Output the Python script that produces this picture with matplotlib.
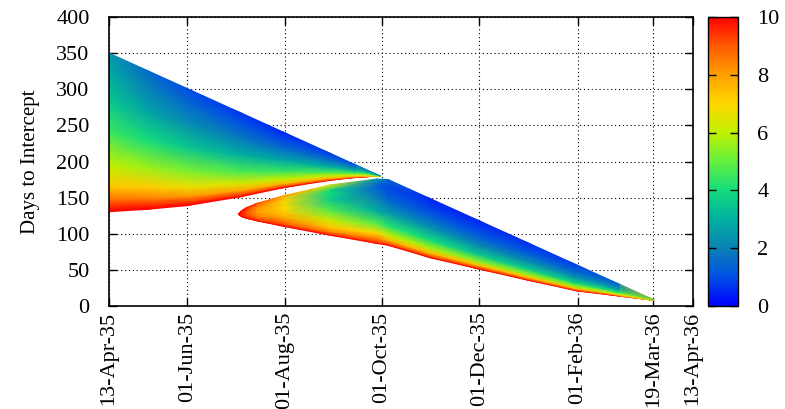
import numpy as np
import matplotlib
matplotlib.use('Agg')
import matplotlib.pyplot as plt
import matplotlib.dates as mdates
from matplotlib.colors import LinearSegmentedColormap

plt.rcParams['font.family'] = ['Liberation Serif', 'DejaVu Serif']

# launch window start, and x tick dates
START = '1935-04-13'
END = '1936-04-13'
tick_dates = ['1935-04-13', '1935-06-01', '1935-08-01', '1935-10-01',
              '1935-12-01', '1936-02-01', '1936-03-19', '1936-04-13']

# mesh rows: fraction of the way from lower edge to upper edge
frac = [0, 0.03, 0.08, 0.16, 0.3, 0.5, 0.7, 0.9, 1.0]

# first branch (days after START, lower / upper days-to-intercept, colour value per row)
lobe1_day = [0, 25, 49, 82, 110, 138.5, 155, 170]
lobe1_low = [130.5, 134, 139, 151, 164, 174, 178, 180]
lobe1_high = [350, 325, 301, 268, 240, 211.5, 195, 180]
lobe1_val = [
    [10, 9.6, 8.6, 7.3, 6.0, 4.5, 3.5, 2.8, 2.5],
    [10, 9.5, 8.4, 7.2, 5.6, 4.0, 2.8, 1.9, 1.5],
    [10, 9.4, 8.1, 6.7, 5.2, 3.5, 2.3, 1.4, 1.0],
    [10, 9.2, 7.8, 6.4, 4.7, 3.0, 1.8, 1.0, 0.7],
    [10, 9.0, 7.5, 6.0, 4.4, 2.8, 1.6, 0.8, 0.5],
    [10, 9.0, 7.6, 6.2, 4.6, 3.0, 1.8, 1.0, 0.8],
    [10, 9.0, 7.8, 6.5, 5.0, 3.4, 2.2, 1.4, 1.2],
    [10, 9.0, 8.0, 7.0, 6.0, 5.0, 4.0, 3.5, 3.0],
]

# second branch
lobe2_day = [81, 83.2, 86, 92.5, 110, 138.5, 167.7, 175, 201, 232, 262, 293, 320, 341]
lobe2_low = [127.3, 123.7, 121.5, 118, 110, 98, 86.7, 84, 67, 51, 36, 21, 13.7, 8]
lobe2_high = [127.3, 132, 136, 142, 153, 167.5, 175.8, 175, 149, 118, 88, 57, 30, 9]
lobe2_val = [
    [10, 10, 10, 10, 10, 10, 10, 10, 10],
    [10, 10, 9.9, 9.8, 9.7, 9.6, 9.7, 9.8, 10],
    [10, 9.9, 9.7, 9.5, 9.3, 9.2, 9.3, 9.6, 9.8],
    [10, 9.7, 9.3, 8.9, 8.4, 8.1, 8.2, 8.8, 9.3],
    [10, 9.6, 9.1, 8.6, 7.8, 7.1, 6.9, 7.2, 8.0],
    [10, 9.2, 8.2, 7.3, 6.2, 4.8, 3.7, 4.0, 6.5],
    [10, 9.2, 8.4, 7.0, 4.9, 3.0, 2.0, 1.3, 2.5],
    [10, 9.0, 7.6, 6.0, 4.2, 2.5, 1.4, 0.9, 1.5],
    [10, 9.0, 7.5, 5.8, 4.0, 2.4, 1.3, 0.7, 0.5],
    [10, 9.0, 7.4, 5.4, 3.5, 2.1, 1.2, 0.7, 0.5],
    [10, 9.0, 7.4, 5.5, 3.6, 2.2, 1.3, 0.8, 0.6],
    [10, 9.0, 7.5, 5.6, 3.8, 2.4, 1.5, 1.0, 0.8],
    [10, 9.2, 7.8, 6.0, 4.3, 3.0, 2.2, 1.7, 1.5],
    [8, 8, 7.5, 7, 6.5, 6, 6, 6, 6],
]

cbar_ticks = [0, 2, 4, 6, 8, 10]
y_ticks = list(range(0, 401, 50))

# palette
cmap = LinearSegmentedColormap.from_list('intercept', [
    (0.0, '#0000ff'), (0.1, '#0050e6'), (0.2, '#0a82b4'), (0.3, '#00b0a0'),
    (0.4, '#14dc7c'), (0.5, '#64f040'), (0.6, '#bff000'), (0.7, '#ffd800'),
    (0.8, '#ffa000'), (0.9, '#ff5a00'), (1.0, '#ff0000')])

fig = plt.figure(figsize=(7.85, 4.09), dpi=100)
ax = fig.add_axes([0.1389, 0.2518, 0.7439, 0.7066])
cax = fig.add_axes([0.9019, 0.2518, 0.0382, 0.7066])

t0 = mdates.date2num(np.datetime64(START))
f = np.asarray(frac)
mesh = None
for days, low, high, vals in [(lobe1_day, lobe1_low, lobe1_high, lobe1_val),
                              (lobe2_day, lobe2_low, lobe2_high, lobe2_val)]:
    d = t0 + np.asarray(days, dtype=float)
    low = np.asarray(low, dtype=float)
    high = np.asarray(high, dtype=float)
    X = np.repeat(d[:, None], len(f), axis=1)
    Y = low[:, None] + (high - low)[:, None] * f[None, :]
    mesh = ax.pcolormesh(X, Y, np.asarray(vals), shading='gouraud',
                         cmap=cmap, vmin=0, vmax=10, zorder=1)

ax.set_xlim(t0, mdates.date2num(np.datetime64(END)))
ax.set_ylim(0, 400)
ax.set_xticks([mdates.date2num(np.datetime64(t)) for t in tick_dates])
ax.xaxis.set_major_formatter(mdates.DateFormatter('%d-%b-%y'))
ax.set_yticks(y_ticks)
ax.tick_params(axis='x', labelrotation=90)
ax.tick_params(direction='in', length=6, width=1, top=True, right=True,
               labelsize=16, colors='black')
ax.tick_params(axis='x', pad=4)
ax.tick_params(axis='y', pad=14)
ax.set_ylabel('Days to Intercept', fontsize=15, labelpad=12)
ax.grid(True, color='black', linestyle=(0, (1, 2.5)), linewidth=0.8, zorder=0)
ax.set_axisbelow(True)
for s in ax.spines.values():
    s.set_linewidth(1.2)
    s.set_zorder(5)

cb = fig.colorbar(mesh, cax=cax, ticks=cbar_ticks)
cb.outline.set_linewidth(1.0)
cax.tick_params(axis='y', direction='in', length=6, width=1, left=True, right=True,
                labelleft=False, labelright=True, labelsize=16, pad=14)
cax.minorticks_off()

fig.savefig('out.png', dpi=100)
